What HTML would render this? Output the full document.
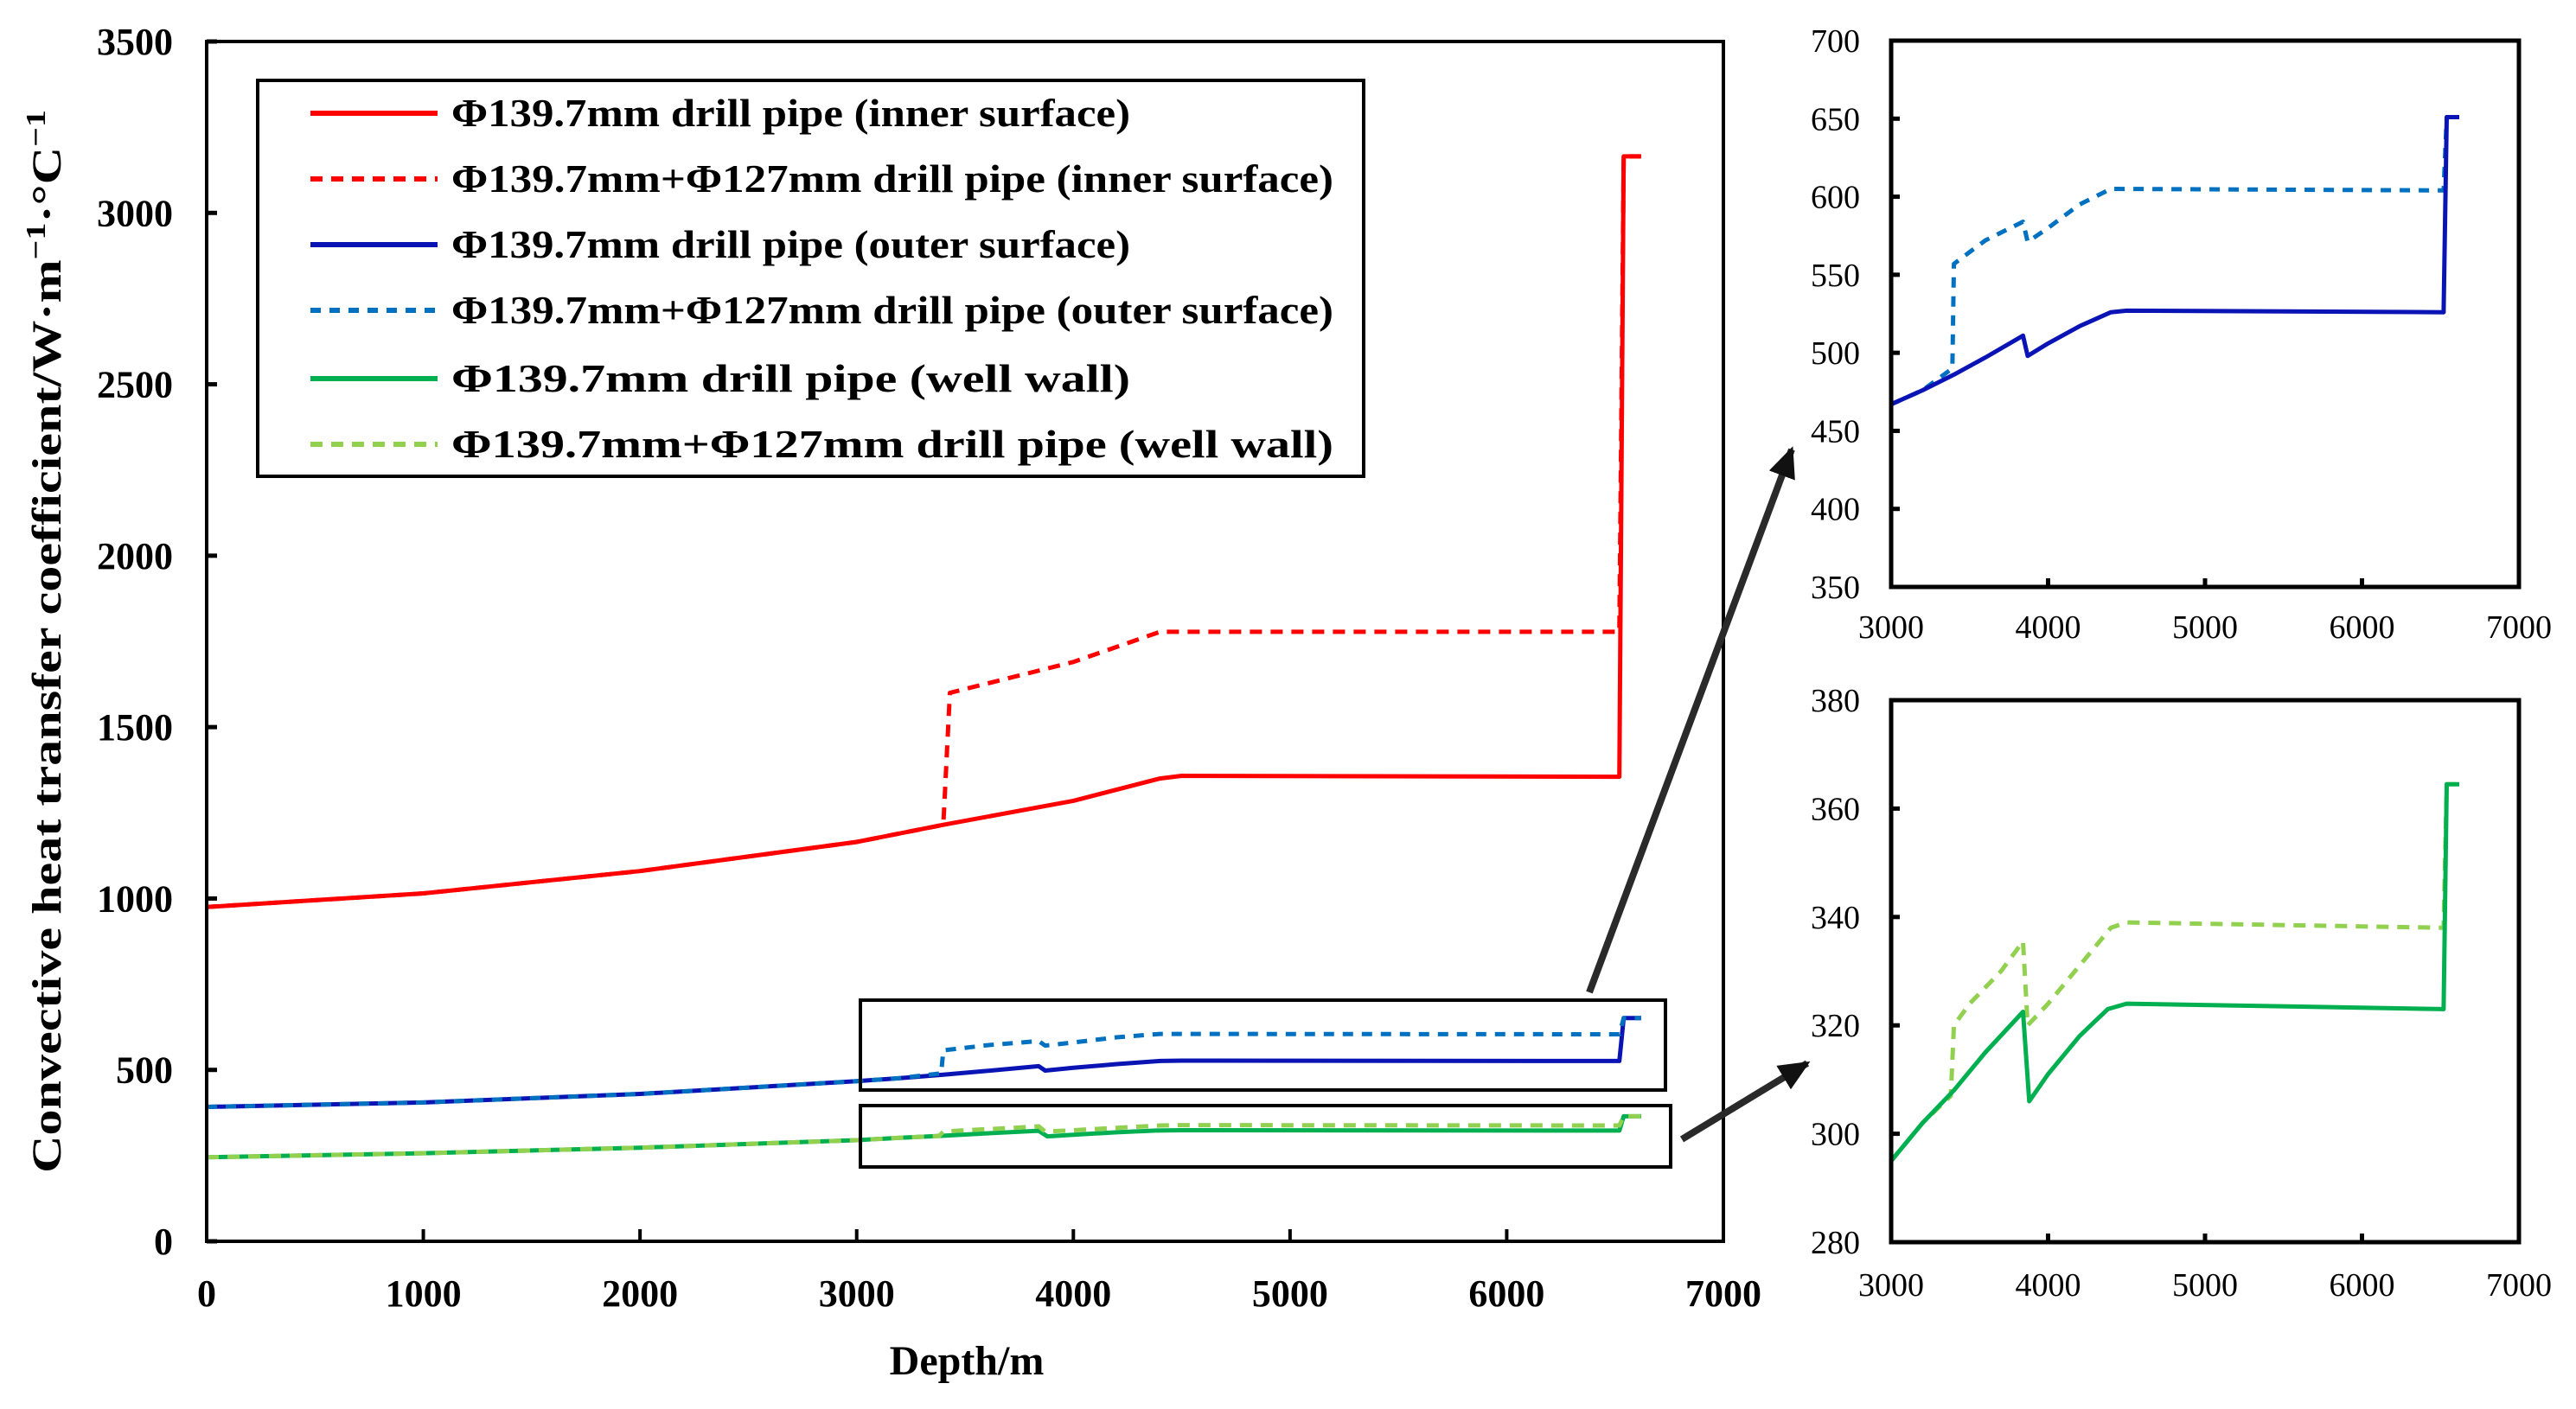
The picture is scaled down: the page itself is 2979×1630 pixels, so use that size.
<!DOCTYPE html>
<html><head><meta charset="utf-8"><style>
html,body{margin:0;padding:0;background:#fff;}
svg{display:block;font-family:"Liberation Serif","Times New Roman",serif;}
text{font-family:"Liberation Serif","Times New Roman",serif;}
</style></head><body>
<svg id="fig" width="2979" height="1630" viewBox="0 0 2979 1630" xmlns="http://www.w3.org/2000/svg" font-family="Liberation Serif, Times New Roman, serif">
<defs>
<marker id="ah" markerWidth="4.5" markerHeight="4" refX="4" refY="2" orient="auto" markerUnits="strokeWidth"><path d="M0,0 L4.5,2 L0,4 Z" fill="#111"/></marker>
</defs>
<g id="main"></g>
<g id="in1"></g>
<g id="in2"></g>
</svg>
<script>
const depthInnerSolid=[0,1000,2000,3000,3400,4000,4400,4500,6520,6540,6620];
const valInnerSolid=[975,1015,1080,1165,1215,1285,1350,1358,1355,3165,3165];
const depthInnerDash=[0,1000,2000,3000,3400,3430,4000,4400,6520,6540,6620];
const valInnerDash=[975,1015,1080,1165,1215,1600,1690,1778,1778,3165,3165];
const depthOuterSolid=[0,1000,2000,3000,3200,3400,3600,3840,3870,4000,4200,4400,4500,6520,6540,6620];
const valOuterSolid=[392,405,430,467,476,486,497,511,498,506,517,526,527,526,651,651];
const depthOuterDash=[0,1000,2000,3000,3200,3390,3400,3600,3840,3870,4000,4200,4400,6520,6540,6620];
const valOuterDash=[392,405,430,467,476,490,557,572,584,571,580,595,605,604,651,651];
const depthWallSolid=[0,1000,2000,3000,3200,3400,3600,3840,3880,4000,4200,4380,4500,6520,6540,6620];
const valWallSolid=[245,257,273,295,302,308,315,322.5,306,311,318,323,324,323,364.5,364.5];
const depthWallDash=[0,1000,2000,3000,3200,3380,3400,3500,3700,3840,3870,4000,4200,4400,4500,6520,6540,6620];
const valWallDash=[245,257,273,295,302,307,320,324,330,335.5,320,324,331,338,339,338,364.5,364.5];
const mainYTicks=[0,500,1000,1500,2000,2500,3000,3500];
const mainXTicks=[0,1000,2000,3000,4000,5000,6000,7000];
const in1YTicks=[350,400,450,500,550,600,650,700];
const in2YTicks=[280,300,320,340,360,380];
const inXTicks=[3000,4000,5000,6000,7000];
const legendLabels=["Φ139.7mm drill pipe (inner surface)","Φ139.7mm+Φ127mm drill pipe (inner surface)","Φ139.7mm drill pipe (outer surface)","Φ139.7mm+Φ127mm drill pipe (outer surface)","Φ139.7mm drill pipe (well wall)","Φ139.7mm+Φ127mm drill pipe (well wall)"];

const NS="http://www.w3.org/2000/svg";
const FF="Liberation Serif, Times New Roman, serif";
function mk(p,tag,at){const e=document.createElementNS(NS,tag);for(const k in at)e.setAttribute(k,at[k]);if(tag==='text')e.setAttribute('font-family',FF);p.appendChild(e);return e;}
function scale(d0,d1,r0,r1){return v=>r0+(v-d0)/(d1-d0)*(r1-r0);}
function clipPts(xs,ys,sx,sy,xmin,ymin,ymax){
  const pts=[];for(let i=0;i<xs.length;i++){if(xs[i]<xmin)continue;let y=Math.max(ymin,Math.min(ymax,ys[i]));pts.push(sx(xs[i]).toFixed(1)+","+sy(y).toFixed(1));}return pts.join(" ");}

const series=[
 {x:depthInnerSolid,y:valInnerSolid,c:"#ff0000",d:null,n:"inner-single-line"},
 {x:depthInnerDash,y:valInnerDash,c:"#ff0000",d:"14,10",n:"inner-combo-line"},
 {x:depthOuterSolid,y:valOuterSolid,c:"#0a14b4",d:null,n:"outer-single-line"},
 {x:depthOuterDash,y:valOuterDash,c:"#0070c0",d:"12,10",n:"outer-combo-line"},
 {x:depthWallSolid,y:valWallSolid,c:"#00b050",d:null,n:"wall-single-line"},
 {x:depthWallDash,y:valWallDash,c:"#92d050",d:"14,10",n:"wall-combo-line"}
];

(function(){
 const g=document.getElementById('main');
 const L=239,R=1993,T=48,B=1436;
 const sx=scale(0,7000,L,R),sy=scale(0,3500,B,T);
 series.forEach(s=>{
  const p=mk(g,'polyline',{points:clipPts(s.x,s.y,sx,sy,0,0,3500),fill:'none',stroke:s.c,'stroke-width':5,'stroke-linejoin':'round'});
  if(s.d)p.setAttribute('stroke-dasharray',s.d);
  
  
 });
 mk(g,'rect',{x:L,y:T,width:R-L,height:B-T,fill:'none',stroke:'#000','stroke-width':4,});
 mainYTicks.forEach(v=>{
  mk(g,'line',{x1:L,x2:L+12,y1:sy(v),y2:sy(v),stroke:'#000','stroke-width':5});
  const t=mk(g,'text',{x:200,y:sy(v)+15,'text-anchor':'end','font-size':44,'font-weight':'bold'});t.textContent=v;
  
  
 });
 mainXTicks.forEach(v=>{
  mk(g,'line',{x1:sx(v),x2:sx(v),y1:B,y2:B-14,stroke:'#000','stroke-width':4});
  const t=mk(g,'text',{x:sx(v),y:1511,'text-anchor':'middle','font-size':44,'font-weight':'bold'});t.textContent=v;
  
  
 });
 const xt=mk(g,'text',{x:1118,y:1590,'text-anchor':'middle','font-size':48,'font-weight':'bold'});xt.textContent="Depth/m";
 
 
 const yt=mk(g,'text',{transform:'translate(70,742) rotate(-90)','text-anchor':'middle','font-size':48,'font-weight':'bold',textLength:1230,lengthAdjust:'spacingAndGlyphs'});
 yt.innerHTML='Convective  heat  transfer  coefficient/W·m<tspan dy="-18" font-size="32">−1</tspan><tspan dy="18">·°C</tspan><tspan dy="-18" font-size="32">−1</tspan>';
 
 
 const lg=mk(g,'g',{});
 
 
 mk(lg,'rect',{x:298,y:93,width:1279,height:458,fill:'#fff',stroke:'#000','stroke-width':4});
 const rows=[131,207,283,359,438,514];
 legendLabels.forEach((lab,i)=>{
  const s=series[i];
  const e=mk(lg,'g',{});
  
  
  const l=mk(e,'line',{x1:359,x2:506,y1:rows[i],y2:rows[i],stroke:s.c,'stroke-width':6});
  if(s.d)l.setAttribute('stroke-dasharray',s.d);
  const w=lab.indexOf('+')>0?1020:785;
  const t=mk(e,'text',{x:522,y:rows[i]+15,'font-size':46,'font-weight':'bold',textLength:w,lengthAdjust:'spacingAndGlyphs'});t.textContent=lab;
 });
 const b1=mk(g,'rect',{x:995,y:1157,width:931,height:104,fill:'none',stroke:'#000','stroke-width':4});
 
 
 const b2=mk(g,'rect',{x:995,y:1279,width:937,height:71,fill:'none',stroke:'#000','stroke-width':4});
 
 
 const a1=mk(g,'line',{x1:1838,y1:1148,x2:2072,y2:520,stroke:'#2a2a2a','stroke-width':8,'marker-end':'url(#ah)'});
 
 
 const a2=mk(g,'line',{x1:1945,y1:1318,x2:2090,y2:1230,stroke:'#2a2a2a','stroke-width':8,'marker-end':'url(#ah)'});
 
 
})();

function inset(id,L,R,T,B,ymin,ymax,yticks,ser,xlabY){
 const g=document.getElementById(id);
 const sx=scale(3000,7000,L,R),sy=scale(ymin,ymax,B,T);
 ser.forEach(s=>{
  const p=mk(g,'polyline',{points:clipPts(s.x,s.y,sx,sy,3000,ymin,ymax),fill:'none',stroke:s.c,'stroke-width':5,'stroke-linejoin':'round'});
  if(s.d)p.setAttribute('stroke-dasharray',s.d);
  
  
 });
 mk(g,'rect',{x:L,y:T,width:R-L,height:B-T,fill:'none',stroke:'#000','stroke-width':5});
 yticks.forEach(v=>{
  mk(g,'line',{x1:L,x2:L+10,y1:sy(v),y2:sy(v),stroke:'#000','stroke-width':5});
  const t=mk(g,'text',{x:L-36,y:sy(v)+13,'text-anchor':'end','font-size':38});t.textContent=v;
  
  
 });
 inXTicks.forEach(v=>{
  mk(g,'line',{x1:sx(v),x2:sx(v),y1:B,y2:B-10,stroke:'#000','stroke-width':5});
  const t=mk(g,'text',{x:sx(v),y:xlabY,'text-anchor':'middle','font-size':38});t.textContent=v;
  
  
 });
}
inset('in1',2187,2913,47,679,350,700,in1YTicks,[series[3],series[2]],738);
inset('in2',2187,2913,810,1437,280,380,in2YTicks,[series[5],series[4]],1499);
</script>
</body></html>
